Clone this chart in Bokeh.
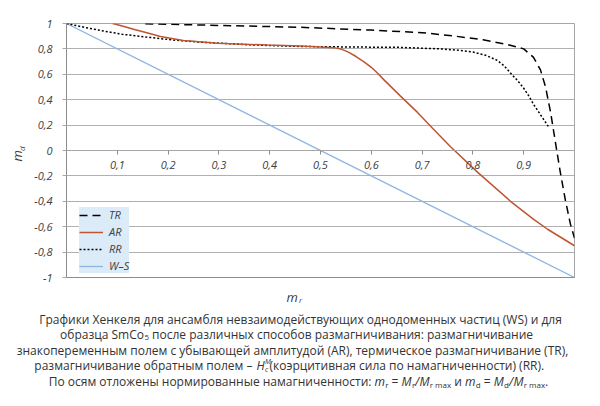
from bokeh.plotting import figure
from bokeh.models import Range1d, LinearAxis, FixedTicker, Legend, LegendItem
from bokeh.layouts import column, row
from bokeh.core.properties import value
from bokeh.embed import file_html
from bokeh.resources import INLINE
import math

# ---------------- data ----------------
ws_mr = [0.0, 1.0]
ws_md = [1.0, -1.0]

tr_mr = [0.155, 0.30, 0.46, 0.60, 0.70, 0.76, 0.82, 0.868, 0.90, 0.919, 0.933, 0.943,
         0.953, 0.963, 0.972, 0.982, 0.992, 1.0]
tr_md = [0.998, 0.985, 0.97, 0.948, 0.928, 0.903, 0.872, 0.835, 0.80, 0.735, 0.635, 0.50,
         0.30, 0.05, -0.17, -0.39, -0.58, -0.69]

rr_mr = [0.0, 0.035, 0.067, 0.11, 0.165, 0.21, 0.264, 0.362, 0.461, 0.56, 0.657, 0.736,
         0.77, 0.80, 0.825, 0.848, 0.862, 0.874, 0.888, 0.90, 0.91, 0.92, 0.93, 0.94, 0.95]
rr_md = [1.0, 0.97, 0.945, 0.915, 0.89, 0.87, 0.853, 0.832, 0.819, 0.815, 0.812, 0.80,
         0.79, 0.775, 0.75, 0.71, 0.665, 0.61, 0.55, 0.49, 0.43, 0.36, 0.30, 0.24, 0.18]

ar_mr = [0.091, 0.11, 0.132, 0.16, 0.185, 0.23, 0.297, 0.396, 0.461, 0.50, 0.526, 0.54,
         0.555, 0.57, 0.585, 0.60, 0.612, 0.624, 0.657, 0.691, 0.722, 0.756, 0.809, 0.874,
         0.919, 0.947, 1.0]
ar_md = [1.0, 0.98, 0.955, 0.925, 0.898, 0.866, 0.845, 0.83, 0.822, 0.815, 0.81, 0.80,
         0.775, 0.74, 0.70, 0.655, 0.61, 0.56, 0.43, 0.30, 0.17, 0.03, -0.17, -0.40,
         -0.54, -0.62, -0.75]

series_names = ["TR", "AR", "RR", "W\u2013S"]

x_ticks = [0.1, 0.2, 0.3, 0.4, 0.5, 0.6, 0.7, 0.8, 0.9]
x_tick_labels = ["0,1", "0,2", "0,3", "0,4", "0,5", "0,6", "0,7", "0,8", "0,9"]
y_ticks = [-1, -0.8, -0.6, -0.4, -0.2, 0, 0.2, 0.4, 0.6, 0.8, 1]
y_tick_labels = ["-1", "-0,8", "-0,6", "-0,4", "-0,2", "0", "0,2", "0,4", "0,6", "0,8", "1"]

caption_1 = "Графики Хенкеля для ансамбля невзаимодействующих однодоменных частиц (WS) и для"
caption_2a = "образца SmCo"
caption_2b = "5"
caption_2c = "после различных способов размагничивания: размагничивание"
caption_3 = "знакопеременным полем с убывающей амплитудой (AR), термическое размагничивание (TR),"
caption_4a = "размагничивание обратным полем –"
caption_4b = "(коэрцитивная сила по намагниченности) (RR)."
caption_5a = "По осям отложены нормированные намагниченности:"

# ---------------- layout geometry (picture pixels) ----------------
FONT = "Open Sans"
TXT = "#333333"
TICK = "#404040"
TOTAL_W, TOTAL_H = 584, 390
YT_W = 26                       # strip holding the y-axis title
MAIN_H = 286                    # height of the chart row
FL, FR, FT, FB = 66, 574, 23, 277

# ---------------- main chart ----------------
p = figure(width=TOTAL_W - YT_W, height=MAIN_H, output_backend="svg", toolbar_location=None,
           x_range=Range1d(0, 1), y_range=Range1d(-1, 1), x_axis_location=None,
           min_border_left=FL - YT_W, min_border_right=TOTAL_W - FR, min_border_top=FT,
           min_border_bottom=MAIN_H - FB)
p.outline_line_color = "#a6a6a6"
p.background_fill_color = "white"
p.border_fill_color = "white"
p.xgrid.visible = False
p.ygrid.grid_line_color = "#b0b0b0"

def overrides(ticks, labels):
    d = {}
    for t, l in zip(ticks, labels):
        d[t] = l
        d[str(t)] = l
    return d

yax = p.yaxis[0]
yax.ticker = FixedTicker(ticks=y_ticks)
yax.major_label_overrides = overrides(y_ticks, y_tick_labels)
yax.axis_line_color = "#8c8c8c"
yax.major_tick_line_color = "#a6a6a6"
yax.major_tick_out = 4
yax.major_tick_in = 0
yax.minor_tick_line_color = None
yax.major_label_text_font = FONT
yax.major_label_text_font_style = "italic"
yax.major_label_text_font_size = "11px"
yax.major_label_text_color = TICK
yax.major_label_standoff = 10
p.ygrid.ticker = yax.ticker

bax = LinearAxis(ticker=FixedTicker(ticks=[]), axis_line_color="#8c8c8c",
                 major_label_text_font_size="0px", major_tick_line_color=None,
                 minor_tick_line_color=None, major_tick_out=0, major_label_standoff=0)
p.add_layout(bax, "below")

xax = LinearAxis(fixed_location=0, ticker=FixedTicker(ticks=x_ticks),
                 major_label_overrides=overrides(x_ticks, x_tick_labels),
                 axis_line_color="#a6a6a6", major_tick_line_color="#8c8c8c",
                 major_tick_out=4, major_tick_in=0, minor_tick_line_color=None,
                 major_label_text_font=FONT, major_label_text_font_style="italic",
                 major_label_text_font_size="11px", major_label_text_color=TICK,
                 major_label_standoff=6)
p.add_layout(xax, "below")

r_ws = p.line(ws_mr, ws_md, line_color="#8cb4e2", line_width=1.3)
r_rr = p.line(rr_mr, rr_md, line_color="black", line_width=1.5, line_dash="2 2")
r_ar = p.line(ar_mr, ar_md, line_color="#bf5430", line_width=1.5)
r_tr = p.line(tr_mr, tr_md, line_color="black", line_width=1.5, line_dash="8 5")

legend = Legend(items=[LegendItem(label=series_names[0], renderers=[r_tr]),
                       LegendItem(label=series_names[1], renderers=[r_ar]),
                       LegendItem(label=series_names[2], renderers=[r_rr]),
                       LegendItem(label=series_names[3], renderers=[r_ws])],
                location=(13, 4), background_fill_color="#dcebf8", background_fill_alpha=1,
                border_line_color=None, label_text_font=FONT, label_text_font_style="italic",
                label_text_font_size="11px", label_text_color=TICK, glyph_width=24,
                glyph_height=12, label_height=12, spacing=2, padding=5, margin=0,
                label_standoff=6)
p.add_layout(legend)

# ---------------- text strips (their frames are in picture pixels) ----------------
def strip(w, h, x0, y0):
    f = figure(width=w, height=h, output_backend="svg", toolbar_location=None,
               x_range=Range1d(x0, x0 + w), y_range=Range1d(-(y0 + h), -y0),
               x_axis_location=None, y_axis_location=None, min_border=0)
    f.outline_line_color = None
    f.xgrid.visible = False
    f.ygrid.visible = False
    f.background_fill_color = "white"
    f.border_fill_color = "white"
    return f

def txt(f, text, px, py, size="12px", style="normal", align="left", angle=0.0, color=TXT):
    f.text(x=[px], y=[-py], text=[text], text_font=value(FONT), text_font_size=size,
           text_font_style=style, text_align=align, text_baseline="middle",
           text_color=color, angle=angle)

yfig = strip(YT_W, MAIN_H, 0, 0)
txt(yfig, "m", 16, 149, size="13px", style="italic", align="center", angle=math.pi / 2, color=TICK)
txt(yfig, "d", 21, 141, size="8px", style="italic", align="center", angle=math.pi / 2, color=TICK)

cap = strip(TOTAL_W, TOTAL_H - MAIN_H, 0, MAIN_H)
txt(cap, "m", 286, 296, size="13px", style="italic", color=TICK)
txt(cap, "r", 298.5, 299, size="8px", style="italic", color=TICK)

L1, L2, L3, L4, L5 = 318.5, 334, 349.5, 365, 380.5
txt(cap, caption_1, 300, L1, align="center")
txt(cap, caption_2a, 143.5, L2, align="right")
txt(cap, caption_2b, 144, L2 + 3, size="8px")
txt(cap, caption_2c, 151.5, L2)
txt(cap, caption_3, 292, L3, align="center")
txt(cap, caption_4a, 252, L4, align="right")
txt(cap, "H", 256, L4, style="italic")
txt(cap, "M", 264.5, L4 - 4, size="7px", style="italic")
txt(cap, "c", 264.5, L4 + 4, size="7px", style="italic")
txt(cap, caption_4b, 269, L4)
txt(cap, caption_5a, 371, L5, align="right")

YS = L5 + 3
pieces = [("m", 374, "italic", 0), ("r", 384.8, "normal", 1), ("=", 391.1, "normal", 0),
          ("M", 401.1, "italic", 0), ("r", 411.4, "normal", 1), ("/", 414.6, "italic", 0),
          ("M", 418.9, "italic", 0), ("r max", 429.2, "normal", 1), ("и", 453.7, "normal", 0),
          ("m", 464.4, "italic", 0), ("d", 475.2, "normal", 1), ("=", 483.3, "normal", 0),
          ("M", 493.3, "italic", 0), ("d", 503.6, "normal", 1), ("/", 508.6, "italic", 0),
          ("M", 512.9, "italic", 0), ("r max", 523.2, "normal", 1), (".", 544.6, "normal", 0)]
for t, px, st, sub in pieces:
    if sub:
        txt(cap, t, px, YS, size="8px", style=st)
    else:
        txt(cap, t, px, L5, style=st)

layout = column(row(yfig, p, spacing=0), cap, spacing=0)
open("out.html", "w").write(file_html(layout, INLINE))
